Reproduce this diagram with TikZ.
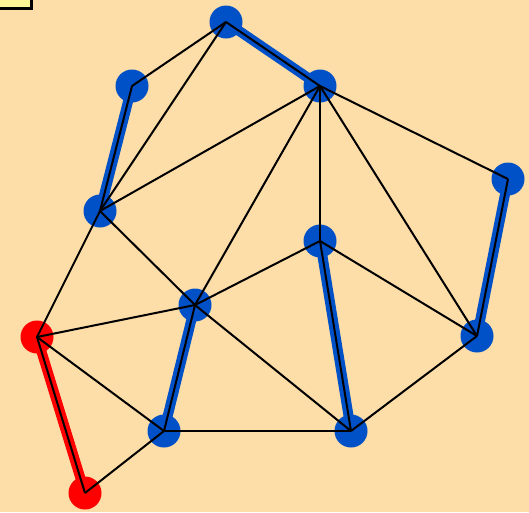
\documentclass[tikz,border=0pt]{standalone}
\definecolor{bgpeach}{RGB}{253,221,168}
\definecolor{vblue}{RGB}{0,80,200}
\definecolor{vred}{RGB}{255,0,0}
\definecolor{boxyellow}{RGB}{255,245,150}
\tikzset{
  vtx/.style={circle,inner sep=0pt,minimum size=33pt,fill=vblue,draw=none},
  rvtx/.style={vtx,fill=vred},
  edge/.style={black,line width=2pt},
  bmatch/.style={vblue,line width=10pt},
  rmatch/.style={vred,line width=10pt}
}
\begin{document}
\begin{tikzpicture}[x=1pt,y=-1pt]
\useasboundingbox (0,0) rectangle (529,512);
\fill[bgpeach] (0,0) rectangle (529,512);
\begin{scope}
\clip (0,0) rectangle (529,512);
\draw[fill=boxyellow,draw=black,line width=3pt] (-20,-20) rectangle (31.5,8.5);
\end{scope}
% vertex positions
\coordinate (pA) at (226,22);
\coordinate (pB) at (132,86);
\coordinate (pC) at (320,86);
\coordinate (pD) at (508,179);
\coordinate (pE) at (100,211);
\coordinate (pF) at (320,241);
\coordinate (pG) at (195,305);
\coordinate (pH) at (37,337);
\coordinate (pI) at (477,336);
\coordinate (pJ) at (164,431);
\coordinate (pK) at (351,431);
\coordinate (pL) at (85,493);
% matching edges (thick)
\draw[bmatch] (pA) -- (pC);
\draw[bmatch] (pB) -- (pE);
\draw[bmatch] (pD) -- (pI);
\draw[bmatch] (pF) -- (pK);
\draw[bmatch] (pG) -- (pJ);
\draw[rmatch] (pH) -- (pL);
% vertices
\node[vtx] (A) at (pA) {};
\node[vtx] (B) at (pB) {};
\node[vtx] (C) at (pC) {};
\node[vtx] (D) at (pD) {};
\node[vtx] (E) at (pE) {};
\node[vtx] (F) at (pF) {};
\node[vtx] (G) at (pG) {};
\node[rvtx] (H) at (pH) {};
\node[vtx] (I) at (pI) {};
\node[vtx] (J) at (pJ) {};
\node[vtx] (K) at (pK) {};
\node[rvtx] (L) at (pL) {};
% graph edges
\foreach \u/\v in {A/B,A/C,A/E,C/E,C/G,C/F,C/I,C/D,D/I,B/E,E/H,E/G,G/H,G/J,G/F,G/K,F/K,F/I,I/K,H/J,H/L,L/J,J/K}
  \draw[edge] (\u.center) -- (\v.center);
\end{tikzpicture}
\end{document}
